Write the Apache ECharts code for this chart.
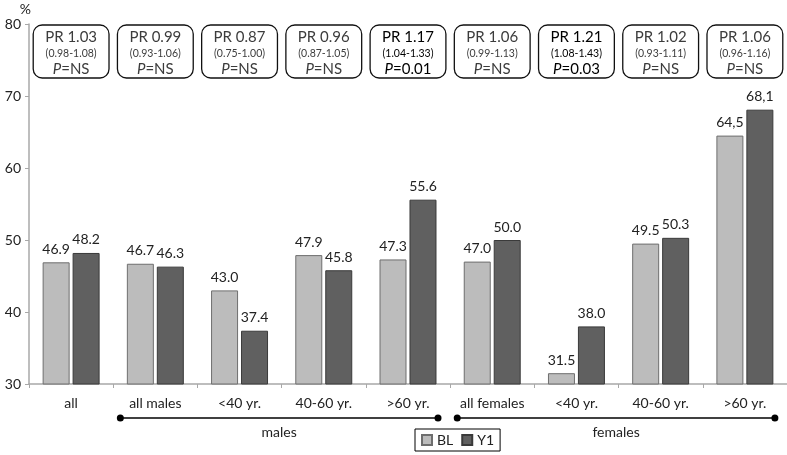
<!DOCTYPE html>
<html>
<head>
<meta charset="utf-8">
<script src="https://cdn.jsdelivr.net/npm/echarts@6/dist/echarts.min.js"></script>
<style>html,body{margin:0;padding:0;background:#fff;}#c{width:787px;height:455px;}</style>
</head>
<body>
<div id="c"></div>
<script>
var categories = ['all', 'all males', '<40 yr.', '40-60 yr.', '>60 yr.', 'all females', '<40 yr.', '40-60 yr.', '>60 yr.'];
var blValues = [46.9, 46.7, 43.0, 47.9, 47.3, 47.0, 31.5, 49.5, 64.5];
var y1Values = [48.2, 46.3, 37.4, 45.8, 55.6, 50.0, 38.0, 50.3, 68.1];
var blLabels = ['46.9', '46.7', '43.0', '47.9', '47.3', '47.0', '31.5', '49.5', '64,5'];
var y1Labels = ['48.2', '46.3', '37.4', '45.8', '55.6', '50.0', '38.0', '50.3', '68,1'];
var prValues = ['1.03', '0.99', '0.87', '0.96', '1.17', '1.06', '1.21', '1.02', '1.06'];
var ciValues = ['(0.98-1.08)', '(0.93-1.06)', '(0.75-1.00)', '(0.87-1.05)', '(1.04-1.33)', '(0.99-1.13)', '(1.08-1.43)', '(0.93-1.11)', '(0.96-1.16)'];
var pValues = ['NS', 'NS', 'NS', 'NS', '0.01', 'NS', '0.03', 'NS', 'NS'];
var groups = [[1, 4, 'males'], [5, 8, 'females']];
var yTicks = {min: 30, max: 80, interval: 10};

var FONT = 'Lato, "Open Sans", sans-serif';
var chart = echarts.init(document.getElementById('c'), null, {renderer: 'canvas'});

var boxData = categories.map(function (c, i) { return [i, yTicks.max]; });

chart.setOption({
  animation: false,
  textStyle: {fontFamily: FONT},
  grid: {left: 29, right: 0, top: 24, bottom: 71, containLabel: false},
  legend: {
    left: 415, top: 429,
    padding: [4, 6, 4, 6],
    borderColor: '#000', borderWidth: 1,
    itemWidth: 10, itemHeight: 10, itemGap: 8,
    textStyle: {fontSize: 14, color: '#222', fontFamily: FONT},
    data: [{name: 'BL', icon: 'rect'}, {name: 'Y1', icon: 'rect'}]
  },
  xAxis: {
    type: 'category',
    data: categories,
    axisLine: {lineStyle: {color: '#a8a8a8', width: 1.5}},
    axisTick: {show: true, length: 4, lineStyle: {color: '#a8a8a8'}},
    axisLabel: {fontSize: 14, color: '#222', margin: 12, interval: 0, fontFamily: FONT},
    splitLine: {show: false}
  },
  yAxis: {
    type: 'value',
    min: yTicks.min, max: yTicks.max, interval: yTicks.interval,
    name: '%', nameLocation: 'end', nameGap: 8,
    nameTextStyle: {fontSize: 14, color: '#222', align: 'right', padding: [0, -2, 0, 0]},
    axisLine: {show: true, lineStyle: {color: '#a8a8a8', width: 1.5}},
    axisTick: {show: true, length: 4, lineStyle: {color: '#a8a8a8'}},
    axisLabel: {fontSize: 14, color: '#222', margin: 8, fontFamily: FONT},
    splitLine: {show: false}
  },
  series: [
    {
      name: 'BL', type: 'bar', data: blValues,
      barWidth: 27, barGap: '11%',
      itemStyle: {color: '#bcbcbc', borderColor: '#6e6e6e', borderWidth: 1},
      label: {show: true, position: 'top', distance: 6, fontSize: 14, color: '#222', fontFamily: FONT,
        formatter: function (p) { return blLabels[p.dataIndex]; }}
    },
    {
      name: 'Y1', type: 'bar', data: y1Values,
      barWidth: 27,
      itemStyle: {color: '#606060', borderColor: '#3a3a3a', borderWidth: 1},
      label: {show: true, position: 'top', distance: 6, fontSize: 14, color: '#222', fontFamily: FONT,
        formatter: function (p) { return y1Labels[p.dataIndex]; }}
    },
    {
      name: 'boxes', type: 'custom', data: boxData, clip: false, silent: true,
      renderItem: function (params, api) {
        var i = api.value(0);
        var top = api.coord([i, api.value(1)]);
        var cw = api.size([1, 0])[0];
        var w = cw * 0.9, h = 53;
        var x = top[0] - w / 2, y = top[1] + 1;
        var sig = pValues[i] !== 'NS';
        var col = sig ? '#000' : '#3c3c3c';
        return {
          type: 'group',
          children: [
            {type: 'rect', shape: {x: x, y: y, width: w, height: h, r: 9},
              style: {fill: '#fff', stroke: '#111', lineWidth: 1.3}},
            {type: 'text', style: {text: 'PR ' + prValues[i], x: top[0], y: y + 12, align: 'center', verticalAlign: 'middle',
              fontSize: 15, fill: col, fontFamily: FONT}},
            {type: 'text', style: {text: ciValues[i], x: top[0], y: y + 29, align: 'center', verticalAlign: 'middle',
              fontSize: 10.5, fill: col, fontFamily: FONT}},
            {type: 'text', style: {text: '{i|P}{n|=' + pValues[i] + '}', x: top[0], y: y + 44, align: 'center', verticalAlign: 'middle',
              fontFamily: FONT, fill: col,
              rich: {i: {fontStyle: 'italic', fontSize: 15, fill: col, fontFamily: FONT},
                     n: {fontSize: 15, fill: col, fontFamily: FONT}}}}
          ]
        };
      }
    },
    {
      name: 'groups', type: 'custom', data: groups, clip: false, silent: true,
      renderItem: function (params, api) {
        var g = groups[params.dataIndex];
        var a = api.coord([g[0], yTicks.min]);
        var b = api.coord([g[1], yTicks.min]);
        var x1 = a[0] - 35, x2 = b[0] + 30, y = a[1] + 34;
        return {
          type: 'group',
          children: [
            {type: 'line', shape: {x1: x1, y1: y, x2: x2, y2: y}, style: {stroke: '#000', lineWidth: 1.5}},
            {type: 'circle', shape: {cx: x1, cy: y, r: 3.5}, style: {fill: '#000'}},
            {type: 'circle', shape: {cx: x2, cy: y, r: 3.5}, style: {fill: '#000'}},
            {type: 'text', style: {text: g[2], x: (x1 + x2) / 2, y: y + 14, align: 'center', verticalAlign: 'middle',
              fontSize: 14, fill: '#222', fontFamily: FONT}}
          ]
        };
      }
    }
  ]
});
</script>
</body>
</html>
